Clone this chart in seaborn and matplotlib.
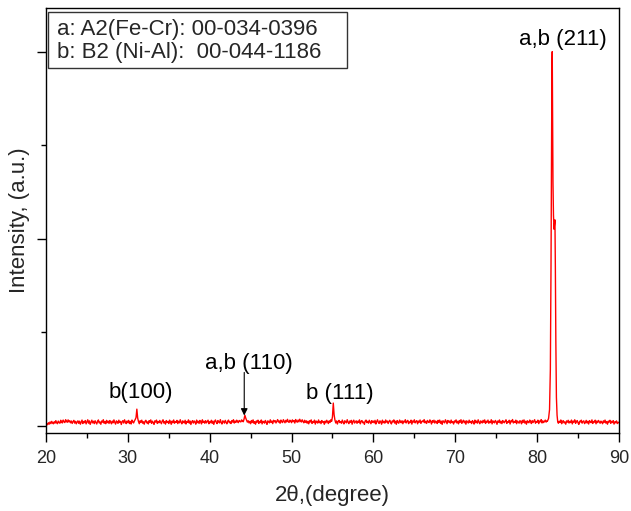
import numpy as np
import pandas as pd
import matplotlib
matplotlib.use("Agg")
import matplotlib.pyplot as plt
import seaborn as sns
from matplotlib.patches import Rectangle
from matplotlib.ticker import MultipleLocator

two_theta = np.round(np.arange(20.0, 90.05, 0.1), 1)
counts = [
    10, 22, 8, 30, 15, 38, 20, 44, 28, 18, 40, 25, 52, 30, 19, 47, 33, 24, 56, 36,
    27, 58, 40, 31, 62, 45, 34, 60, 38, 51, 29, 48, 22, 41, 55, 26, 44, 18, 39, 50,
    23, 46, 14, 37, 58, 21, 43, 30, 53, 17, 40, 61, 25, 49, 12, 36, 57, 28, 45, 20,
    51, 33, 16, 44, 59, 27, 38, 13, 48, 35, 62, 24, 42, 19, 55, 31, 46, 22, 53, 37,
    18, 47, 29, 60, 34, 15, 50, 39, 23, 57, 32, 44, 11, 41, 52, 26, 61, 36, 20, 48,
    30, 55, 21, 43, 16, 58, 38, 27, 49, 64, 85, 175, 80, 42, 19, 51, 33, 57, 25, 40,
    14, 45, 56, 28, 39, 17, 52, 34, 60, 23, 46, 31, 12, 50, 37, 58, 22, 43, 29, 54,
    36, 19, 48, 61, 26, 41, 15, 53, 32, 44, 21, 57, 38, 13, 47, 30, 59, 24, 42, 33,
    55, 20, 45, 29, 62, 35, 18, 50, 40, 27, 56, 16, 43, 34, 60, 25, 48, 11, 38, 52,
    26, 49, 37, 14, 58, 31, 45, 22, 54, 39, 17, 61, 33, 46, 24, 52, 28, 42, 57, 19,
    41, 30, 56, 23, 47, 12, 44, 59, 35, 20, 53, 38, 27, 63, 32, 16, 50, 43, 25, 55,
    34, 18, 46, 58, 29, 40, 21, 52, 37, 62, 26, 48, 33, 57, 42, 30, 54, 45, 38, 60,
    48, 40, 70, 110, 80, 58, 36, 51, 28, 44, 19, 53, 32, 60, 24, 41, 14, 49, 36, 57,
    22, 43, 31, 59, 17, 46, 38, 25, 54, 35, 12, 50, 41, 28, 61, 33, 47, 20, 56, 39,
    52, 27, 44, 63, 36, 49, 24, 58, 40, 31, 62, 45, 29, 55, 38, 66, 42, 33, 57, 47,
    30, 60, 41, 53, 26, 64, 44, 35, 58, 39, 67, 48, 37, 61, 43, 29, 56, 34, 50, 25,
    45, 18, 51, 37, 60, 22, 42, 32, 57, 15, 48, 38, 26, 59, 30, 44, 20, 53, 35, 41,
    13, 47, 29, 56, 38, 21, 50, 33, 61, 45, 95, 240, 115, 58, 27, 49, 16, 43, 55, 31,
    40, 24, 58, 35, 17, 51, 42, 28, 62, 36, 20, 47, 33, 55, 14, 44, 57, 26, 39, 50,
    23, 46, 34, 60, 18, 42, 53, 29, 37, 12, 49, 58, 31, 45, 25, 56, 38, 19, 52, 33,
    47, 28, 55, 16, 41, 61, 34, 22, 50, 39, 14, 57, 30, 44, 25, 59, 36, 48, 21, 43,
    56, 32, 17, 49, 38, 60, 26, 45, 13, 53, 35, 24, 58, 40, 29, 51, 19, 46, 37, 62,
    27, 44, 55, 20, 39, 31, 57, 15, 48, 36, 61, 28, 43, 52, 18, 47, 34, 59, 23, 41,
    50, 37, 63, 29, 45, 22, 54, 40, 31, 60, 42, 16, 52, 35, 57, 26, 48, 38, 21, 55,
    33, 58, 24, 46, 12, 51, 39, 28, 61, 43, 19, 54, 36, 47, 25, 58, 30, 42, 16, 49,
    37, 60, 27, 45, 18, 53, 34, 62, 23, 41, 56, 29, 48, 14, 50, 38, 26, 57, 32, 44,
    21, 52, 39, 15, 58, 30, 47, 25, 61, 36, 19, 49, 42, 27, 55, 33, 60, 22, 46, 35,
    58, 24, 43, 31, 62, 17, 50, 37, 28, 54, 40, 13, 48, 35, 59, 26, 45, 20, 53, 38,
    29, 47, 61, 22, 41, 34, 56, 16, 50, 39, 64, 27, 44, 32, 57, 19, 48, 36, 25, 52,
    40, 18, 55, 33, 60, 26, 45, 14, 51, 37, 29, 58, 42, 21, 53, 31, 47, 62, 24, 43,
    35, 57, 20, 48, 39, 63, 27, 50, 31, 45, 58, 36, 49, 41, 60, 65, 150, 600, 3000, 3900,
    2100, 1500, 400, 150, 70, 57, 24, 46, 33, 59, 19, 43, 52, 28, 38, 14, 49, 35, 56, 26,
    44, 31, 58, 17, 47, 36, 61, 23, 40, 53, 29, 12, 46, 38, 57, 25, 42, 50, 20, 34,
    55, 27, 45, 16, 52, 39, 30, 60, 22, 43, 35, 57, 18, 48, 31, 54, 40, 24, 47, 36,
    19, 50, 33, 58, 26, 42, 14, 47, 37, 56, 23, 45, 31, 52, 15, 40, 29, 49, 21, 36,
    28,
]

# Finer profile of the (211) reflection (K-alpha1 + K-alpha2 shoulder)
peak_2theta = [81.25, 81.40, 81.52, 81.62, 81.70, 81.76, 81.81, 81.85, 81.89, 81.94,
               82.00, 82.07, 82.13, 82.18, 82.23, 82.29, 82.36, 82.44, 82.52]
peak_counts = [45, 75, 170, 600, 1700, 3000, 3800, 4000, 3300, 2600,
               2250, 2100, 2150, 2200, 1700, 900, 300, 110, 40]

# peak labels: (text, 2theta, intensity)
labels = [
    ("a,b (211)", 83.2, 4126),
    ("b(100)", 31.6, 354),
    ("a,b (110)", 44.76, 664),
    ("b (111)", 55.86, 343),
]
arrow_2theta = 44.22
arrow_from, arrow_to = 568, 107

legend_lines = ["a: A2(Fe-Cr): 00-034-0396", "b: B2 (Ni-Al):  00-044-1186"]

base = pd.DataFrame({"two_theta": two_theta, "counts": counts})
base = base[(base.two_theta < 81.22) | (base.two_theta > 82.55)]
peak = pd.DataFrame({"two_theta": peak_2theta, "counts": peak_counts})
df = pd.concat([base, peak]).sort_values("two_theta").reset_index(drop=True)

sns.set_theme(style="ticks")
plt.rcParams["font.family"] = ["Liberation Sans", "DejaVu Sans"]

fig = plt.figure(figsize=(6.31, 5.11), dpi=100)
ax = fig.add_axes([0.0729, 0.1536, 0.908, 0.8317])

sns.lineplot(data=df, x="two_theta", y="counts", color="red", linewidth=1.0,
             estimator=None, sort=False, ax=ax)

ax.set_xlim(20, 90)
ax.set_ylim(-75, 4472)
ax.xaxis.set_major_locator(MultipleLocator(10))
ax.xaxis.set_minor_locator(MultipleLocator(5))
ax.yaxis.set_major_locator(MultipleLocator(2000))
ax.yaxis.set_minor_locator(MultipleLocator(1000))

ax.tick_params(axis="both", which="major", length=6.5, width=1, color="black",
               direction="out", labelsize=13, pad=6)
ax.tick_params(axis="both", which="minor", length=3.6, width=1, color="black",
               direction="out")
ax.tick_params(axis="y", which="both", labelleft=False)

for sp in ax.spines.values():
    sp.set_visible(True)
    sp.set_color("black")
    sp.set_linewidth(1)

ax.set_xlabel("2\u03b8,(degree)", fontsize=16, labelpad=13)
ax.set_ylabel("Intensity, (a.u.)", fontsize=16, labelpad=5)

for txt, xx, yy in labels:
    ax.text(xx, yy, txt, fontsize=16, ha="center", va="center", color="black")

ax.annotate("", xy=(arrow_2theta, arrow_to), xytext=(arrow_2theta, arrow_from),
            arrowprops=dict(arrowstyle="-|>", color="black", lw=0.8,
                            mutation_scale=10, shrinkA=0, shrinkB=0))

# legend box (fixed size, as in the original)
ax.add_patch(Rectangle((0.0035, 0.8576), 0.5218, 0.1318, transform=ax.transAxes,
                       facecolor="white", edgecolor="#333333", linewidth=1, zorder=3))
ax.text(0.0192, 0.9353, legend_lines[0], transform=ax.transAxes, fontsize=16,
        ha="left", va="baseline", zorder=4)
ax.text(0.0192, 0.8812, legend_lines[1], transform=ax.transAxes, fontsize=16,
        ha="left", va="baseline", zorder=4)

fig.savefig("out.png", dpi=100)
